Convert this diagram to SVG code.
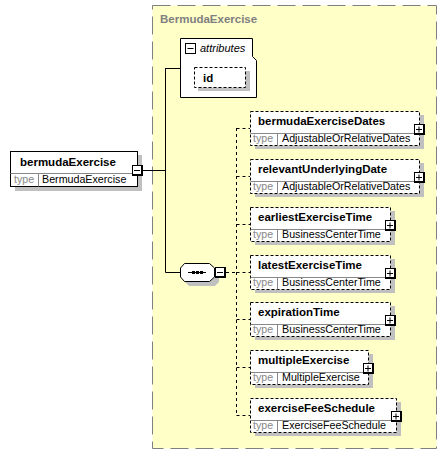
<svg xmlns="http://www.w3.org/2000/svg" width="448" height="455" viewBox="0 0 448 455">
<defs>
<style>
.nm{font-family:"Liberation Sans",Arial,sans-serif;font-weight:bold;font-size:11.5px;fill:#000}
.tl{font-family:"Liberation Sans",Arial,sans-serif;font-size:10.7px;fill:#888}
.tv{font-family:"Liberation Sans",Arial,sans-serif;font-size:10.7px;fill:#000}
.sh{fill:#c0c0c0}
.box{fill:#fff;stroke:#000;stroke-width:1}
.dbox{fill:#fff;stroke:#000;stroke-width:1;stroke-dasharray:3 2}
.sep{stroke:#888;stroke-width:1;fill:none}
.con{stroke:#000;stroke-width:1;fill:none}
.dcon{stroke:#000;stroke-width:1;fill:none;stroke-dasharray:3 3}
</style>
<g id="plus">
<rect x="0" y="0" width="11" height="11" fill="#000"/>
<rect x="1" y="1" width="8" height="8" fill="#fff"/>
<path d="M2,5.5H8M5,2.5V8.5" stroke="#000" stroke-width="1"/>
</g>
<g id="minus">
<rect x="0" y="0" width="11" height="11" fill="#000"/>
<rect x="1" y="1" width="8" height="8" fill="#fff"/>
<path d="M2,5.5H8" stroke="#000" stroke-width="1"/>
</g>
</defs>

<g id="complexType">
<rect x="152.5" y="5.5" width="284" height="443" fill="#ffffc8" stroke="#808080" stroke-width="1" stroke-dasharray="18 7"/>
<text x="160" y="23" font-family="Liberation Sans,Arial,sans-serif" font-weight="bold" font-size="11.5" fill="#808080">BermudaExercise</text>
</g>

<g id="connectors">
<path class="con" d="M143,170.5H165.5M165.5,68V272.5M165.5,68.5H180M165.5,272.5H180"/>
<path class="dcon" d="M226,272.5H236.5M236.5,128V416M236.5,128.5H250M236.5,176.5H250M236.5,224.5H250M236.5,272.5H250M236.5,319.5H250M236.5,367.5H250M236.5,415.5H250"/>
</g>

<g id="bermudaExercise">
<rect class="sh" x="15" y="155" width="127" height="36"/>
<rect class="box" x="10.5" y="151.5" width="127" height="35"/>
<path class="sep" d="M10.5,173.5H137.5M38.5,173.5V186.5"/>
<text class="nm" x="20" y="165.5">bermudaExercise</text>
<text class="tl" x="14" y="182.5">type</text>
<text class="tv" x="42" y="182.5">BermudaExercise</text>
<use href="#minus" x="132" y="165"/>
</g>

<g id="attributes">
<path d="M180.5,38.5H252.5V56.5L256.5,60.5V97.5H180.5Z" fill="#fff" stroke="#000" stroke-width="1"/>
<rect x="185.5" y="43.5" width="10" height="10" fill="#fff" stroke="#000"/>
<path d="M187.5,48.5H193.5" stroke="#000"/>
<text x="200" y="52" font-family="Liberation Sans,Arial,sans-serif" font-style="italic" font-size="11" fill="#000">attributes</text>
<g id="id">
<rect class="sh" x="198" y="71" width="52" height="20"/>
<rect class="dbox" x="194.5" y="67.5" width="51" height="20"/>
<text class="nm" x="203" y="81.5">id</text>
</g>
</g>

<g id="sequence">
<polygon class="sh" points="189,268 215,268 219,272 219,282 215,286 189,286 185,282 185,272"/>
<polygon points="184.5,263.5 209.5,263.5 214.5,268 214.5,277 209.5,281.5 184.5,281.5 180.5,277 180.5,268" fill="#fff" stroke="#000"/>
<path d="M188,272.5H206" stroke="#000"/>
<rect x="192" y="271" width="3" height="3" fill="#000"/>
<rect x="196" y="271" width="3" height="3" fill="#000"/>
<rect x="200" y="271" width="3" height="3" fill="#000"/>
<use href="#minus" x="215" y="267"/>
</g>

<g id="bermudaExerciseDates">
<rect class="sh" x="255" y="115" width="169" height="34"/>
<rect class="dbox" x="250.5" y="111.5" width="169" height="34"/>
<path class="sep" d="M250.5,133.5H419.5M277.5,133.5V145.5"/>
<text class="nm" x="258" y="124.5">bermudaExerciseDates</text>
<text class="tl" x="253" y="141.5">type</text>
<text class="tv" x="282" y="141.5">AdjustableOrRelativeDates</text>
<use href="#plus" x="414" y="124"/>
</g>

<g id="relevantUnderlyingDate">
<rect class="sh" x="255" y="163" width="169" height="34"/>
<rect class="dbox" x="250.5" y="159.5" width="169" height="34"/>
<path class="sep" d="M250.5,181.5H419.5M277.5,181.5V193.5"/>
<text class="nm" x="258" y="172.5">relevantUnderlyingDate</text>
<text class="tl" x="253" y="189.5">type</text>
<text class="tv" x="282" y="189.5">AdjustableOrRelativeDates</text>
<use href="#plus" x="414" y="172"/>
</g>

<g id="earliestExerciseTime">
<rect class="sh" x="255" y="211" width="140" height="34"/>
<rect class="dbox" x="250.5" y="207.5" width="140" height="34"/>
<path class="sep" d="M250.5,229.5H390.5M277.5,229.5V241.5"/>
<text class="nm" x="258" y="220.5">earliestExerciseTime</text>
<text class="tl" x="253" y="237.5">type</text>
<text class="tv" x="282" y="237.5">BusinessCenterTime</text>
<use href="#plus" x="385" y="220"/>
</g>

<g id="latestExerciseTime">
<rect class="sh" x="255" y="259" width="140" height="34"/>
<rect class="dbox" x="250.5" y="255.5" width="140" height="34"/>
<path class="sep" d="M250.5,277.5H390.5M277.5,277.5V289.5"/>
<text class="nm" x="258" y="268.5">latestExerciseTime</text>
<text class="tl" x="253" y="285.5">type</text>
<text class="tv" x="282" y="285.5">BusinessCenterTime</text>
<use href="#plus" x="385" y="268"/>
</g>

<g id="expirationTime">
<rect class="sh" x="255" y="306" width="140" height="34"/>
<rect class="dbox" x="250.5" y="302.5" width="140" height="34"/>
<path class="sep" d="M250.5,324.5H390.5M277.5,324.5V336.5"/>
<text class="nm" x="258" y="315.5">expirationTime</text>
<text class="tl" x="253" y="332.5">type</text>
<text class="tv" x="282" y="332.5">BusinessCenterTime</text>
<use href="#plus" x="385" y="315"/>
</g>

<g id="multipleExercise">
<rect class="sh" x="255" y="354" width="118" height="34"/>
<rect class="dbox" x="250.5" y="350.5" width="118" height="34"/>
<path class="sep" d="M250.5,372.5H368.5M277.5,372.5V384.5"/>
<text class="nm" x="258" y="363.5">multipleExercise</text>
<text class="tl" x="253" y="380.5">type</text>
<text class="tv" x="282" y="380.5">MultipleExercise</text>
<use href="#plus" x="363" y="363"/>
</g>

<g id="exerciseFeeSchedule">
<rect class="sh" x="255" y="402" width="146" height="34"/>
<rect class="dbox" x="250.5" y="398.5" width="146" height="34"/>
<path class="sep" d="M250.5,420.5H396.5M277.5,420.5V432.5"/>
<text class="nm" x="258" y="411.5">exerciseFeeSchedule</text>
<text class="tl" x="253" y="428.5">type</text>
<text class="tv" x="282" y="428.5">ExerciseFeeSchedule</text>
<use href="#plus" x="391" y="411"/>
</g>
</svg>
